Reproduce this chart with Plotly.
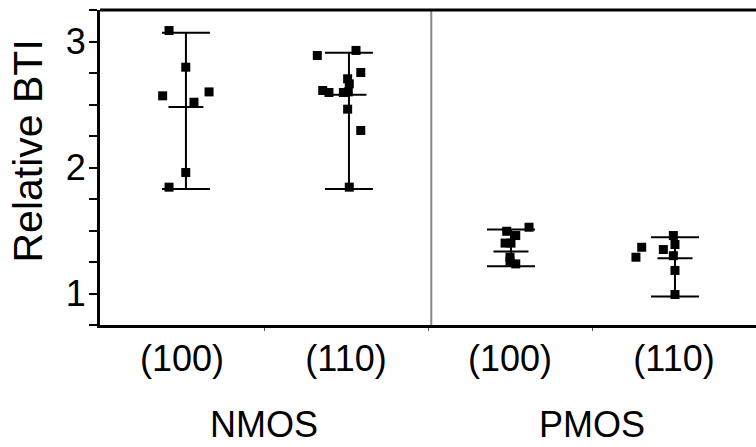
import plotly.graph_objects as go

# ---- data ----
categories = ["(100)", "(110)", "(100)", "(110)"]
groups = ["NMOS", "PMOS"]

nmos100_y = [3.087, 2.796, 2.569, 2.600, 2.518, 1.960, 1.844]
nmos100_jit = [-0.079, 0.023, -0.118, 0.165, 0.073, 0.023, -0.079]

nmos110_y = [2.889, 2.929, 2.754, 2.704, 2.664, 2.611, 2.595, 2.595, 2.600, 2.463, 2.294, 1.844]
nmos110_jit = [-0.175, 0.061, 0.090, 0.010, 0.020, -0.142, -0.104, -0.016, 0.014, 0.010, 0.090, 0.020]

pmos100_y = [1.526, 1.494, 1.460, 1.400, 1.400, 1.288, 1.256, 1.235]
pmos100_jit = [0.116, -0.020, 0.035, -0.030, 0.006, 0.000, 0.000, 0.035]

pmos110_y = [1.460, 1.389, 1.349, 1.367, 1.288, 1.300, 1.183, 0.992]
pmos110_jit = [-0.004, 0.006, -0.065, -0.197, -0.232, -0.004, 0.006, 0.006]

bar_mean = [2.48, 2.577, 1.333, 1.28]
bar_low = [1.83, 1.83, 1.217, 0.976]
bar_high = [3.07, 2.91, 1.508, 1.447]
bar_shift = [0.024, 0.018, 0.006, 0.006]

series_y = [nmos100_y, nmos110_y, pmos100_y, pmos110_y]
series_jit = [nmos100_jit, nmos110_jit, pmos100_jit, pmos110_jit]

FONT = "Liberation Sans, Arial, sans-serif"

fig = go.Figure()

for i in range(4):
    xc = i + bar_shift[i]
    fig.add_trace(go.Scatter(
        x=[xc], y=[bar_mean[i]], mode="markers",
        marker=dict(symbol="line-ew", size=25, color="black",
                    line=dict(color="black", width=2)),
        error_y=dict(type="data", symmetric=False,
                     array=[bar_high[i] - bar_mean[i]],
                     arrayminus=[bar_mean[i] - bar_low[i]],
                     color="black", thickness=2, width=24),
        showlegend=False, hoverinfo="skip"))

for i in range(4):
    xs = [i + j for j in series_jit[i]]
    fig.add_trace(go.Scatter(
        x=xs, y=series_y[i], mode="markers",
        marker=dict(symbol="square", size=9, color="black"),
        showlegend=False))

# divider between NMOS and PMOS
fig.add_shape(type="line", xref="x", yref="paper", x0=1.52, x1=1.52, y0=0, y1=1,
              line=dict(color="#888888", width=2), layer="below")
# top frame line
fig.add_shape(type="line", xref="paper", yref="paper", x0=0, x1=1, y0=1, y1=1,
              line=dict(color="black", width=3))

# group labels
for k, g in enumerate(groups):
    fig.add_annotation(x=0.5 + 2 * k, y=-0.317, xref="x", yref="paper",
                       text=g, showarrow=False, yanchor="middle",
                       font=dict(family=FONT, size=36, color="black"))

fig.add_annotation(x=0, y=0.5, xref="paper", yref="paper", xshift=-73, yshift=16,
                   text="Relative BTI", textangle=-90, showarrow=False,
                   xanchor="center", yanchor="middle",
                   font=dict(family=FONT, size=41, color="black"))

fig.update_layout(
    width=756, height=447,
    margin=dict(l=100, r=0, t=10, b=122),
    plot_bgcolor="white", paper_bgcolor="white",
    font=dict(family=FONT, size=36, color="black"),
    xaxis=dict(range=[-0.5, 3.5], tickvals=[0, 1, 2, 3], ticktext=categories,
               showgrid=False, zeroline=False, showline=True, linecolor="black",
               linewidth=3, ticks="", tickfont=dict(size=36),
               minor=dict(tickvals=[0.5, 1.5, 2.5], ticks="outside", ticklen=3,
                          tickcolor="#555555", tickwidth=1)),
    yaxis=dict(range=[0.75, 3.25], tickvals=[1, 2, 3], ticktext=["1", "2", "3"],
               showgrid=False, zeroline=False, showline=True, linecolor="black",
               linewidth=3, ticks="outside", ticklen=8, tickwidth=1.5,
               tickcolor="black", tickfont=dict(size=36), ticklabelstandoff=-4,
               minor=dict(dtick=0.25, tick0=0, ticks="outside", ticklen=8,
                          tickwidth=1.5, tickcolor="black")),
)

fig.write_html("out.html")
